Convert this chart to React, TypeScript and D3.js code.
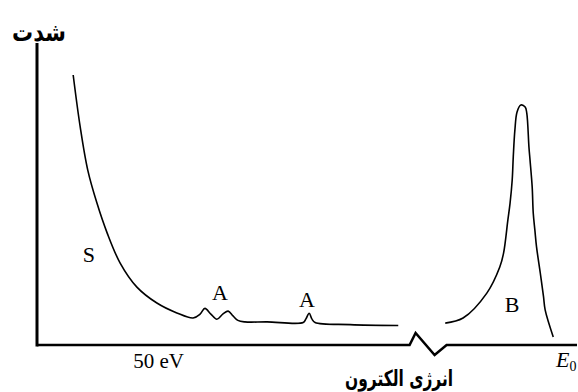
import React from "react";
import * as d3 from "d3";

// energy (arbitrary units, 0-100) and intensity (arbitrary units, 0-100)
const secondaryEnergy = [6.7, 8.0, 9.4, 11.1, 13.0, 15.4, 18.5, 22.2, 25.9, 28.9, 30.2, 31.1, 32.2, 33.3, 34.4, 35.4, 36.3, 37.2, 38.5, 42.6, 49.3, 49.8, 50.4, 50.9, 51.5, 58.0, 66.9];
const secondaryIntensity = [90.0, 72.7, 58.3, 47.3, 37.3, 27.3, 19.3, 14.0, 10.7, 9.0, 10.3, 12.2, 10.3, 8.6, 10.3, 11.3, 9.7, 8.2, 7.7, 7.7, 7.5, 8.7, 10.6, 8.7, 7.5, 6.8, 6.5];

const elasticEnergy = [75.6, 78.9, 83.3, 85.7, 86.4, 87.2, 87.6, 88.0, 88.2, 88.5, 88.9, 89.6, 90.4, 90.7, 91.1, 91.3, 91.7, 91.9, 92.2, 92.5, 93.2, 93.8, 94.1, 95.6];
const elasticIntensity = [7.3, 9.0, 17.3, 26.0, 30.6, 41.7, 47.2, 55.0, 62.8, 71.7, 77.7, 80.0, 79.3, 77.3, 66.0, 61.7, 52.7, 43.9, 38.3, 32.8, 24.0, 16.1, 11.7, 2.7];

const peakLabels = ["S", "A", "A", "B"];
const peakLabelEnergy = [9.6, 33.9, 50.0, 88.0];
const peakLabelIntensity = [27.7, 15.0, 12.7, 11.0];

const axisBreakEnergy = 69.0;
const tickLabel = "50 eV";
const tickEnergy = 22.5;
const endLabel = "E";
const endEnergy = 98.0;
const xTitle = "انرژی الکترون";
const yTitle = "شدت";

export default function App() {
  const W = 578, H = 392;
  const x = d3.scaleLinear().domain([0, 100]).range([37, 577]);
  const y = d3.scaleLinear().domain([0, 100]).range([345, 45]);

  const line = d3
    .line<[number, number]>()
    .x((d) => x(d[0]))
    .y((d) => y(d[1]))
    .curve(d3.curveCatmullRom.alpha(0.5));

  const sPts = secondaryEnergy.map((e, i) => [e, secondaryIntensity[i]] as [number, number]);
  const bPts = elasticEnergy.map((e, i) => [e, elasticIntensity[i]] as [number, number]);

  const bx = x(axisBreakEnergy);
  const y0 = y(0);
  const axisPath =
    `M${x(0)},${y0} L${bx},${y0} L${bx + 6},${y0 - 12} L${bx + 25},${y0 + 10} L${bx + 37},${y0} L${x(100)},${y0}`;

  const serif = "'Liberation Serif', 'DejaVu Serif', serif";

  return (
    <svg width={W} height={H} style={{ position: "absolute", left: 0, top: 0, background: "#fff" }}>
      <rect width={W} height={H} fill="#fff" />
      {/* y axis */}
      <line x1={x(0)} x2={x(0)} y1={y(100.7)} y2={y(-0.5)} stroke="#000" strokeWidth={3} />
      {/* x axis with break */}
      <path d={axisPath} fill="none" stroke="#000" strokeWidth={2.5} strokeLinejoin="miter" />
      {/* curves */}
      <path d={line(sPts) || ""} fill="none" stroke="#000" strokeWidth={1.6} />
      <path d={line(bPts) || ""} fill="none" stroke="#000" strokeWidth={1.6} />
      {/* peak labels */}
      {peakLabels.map((t, i) => (
        <text
          key={i}
          x={x(peakLabelEnergy[i])}
          y={y(peakLabelIntensity[i])}
          textAnchor="middle"
          style={{ fontFamily: serif }}
          fontSize={22}
          fill="#000"
        >
          {t}
        </text>
      ))}
      {/* tick label */}
      <text x={x(tickEnergy)} y={368} textAnchor="middle" style={{ fontFamily: serif }} fontSize={21} fill="#000">
        {tickLabel}
      </text>
      <text x={x(endEnergy)} y={367} textAnchor="middle" style={{ fontFamily: serif }} fontSize={22} fontStyle="italic" fill="#000">
        {endLabel}
        <tspan fontSize={14} fontStyle="normal" dy={4}>0</tspan>
      </text>
      {/* titles */}
      <g transform="translate(399,386) scale(0.86,1.22)">
        <text x={0} y={0} textAnchor="middle" style={{ fontFamily: "'DejaVu Sans', sans-serif" }} fontWeight="bold" fontSize={18} fill="#000" direction="rtl">
          {xTitle}
        </text>
      </g>
      <g transform="translate(39,41) scale(1.05,1.25)">
        <text x={0} y={0} textAnchor="middle" style={{ fontFamily: "'DejaVu Sans', sans-serif" }} fontWeight="bold" fontSize={20} fill="#000" direction="rtl">
          {yTitle}
        </text>
      </g>
    </svg>
  );
}
